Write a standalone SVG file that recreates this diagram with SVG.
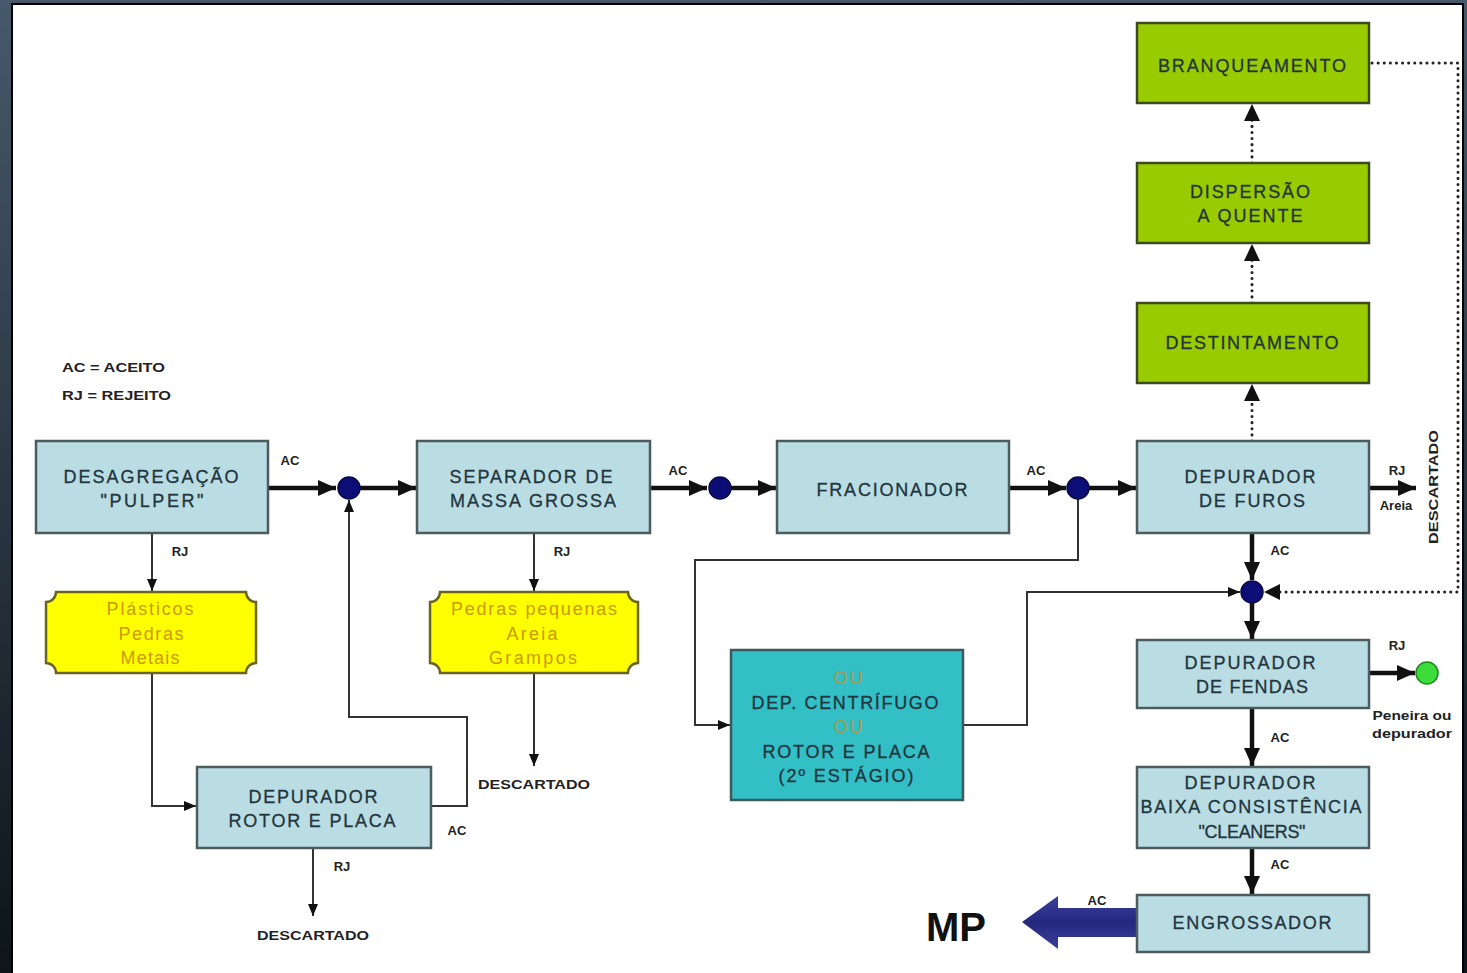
<svg xmlns="http://www.w3.org/2000/svg" width="1467" height="973" viewBox="0 0 1467 973">
<defs>
<linearGradient id="bg" x1="0" y1="0" x2="0" y2="1">
<stop offset="0" stop-color="#46596b"/>
<stop offset="1" stop-color="#0e1419"/>
</linearGradient>
<linearGradient id="mpg" x1="0" y1="0" x2="0" y2="1">
<stop offset="0" stop-color="#3a3f9a"/>
<stop offset="0.5" stop-color="#24287e"/>
<stop offset="1" stop-color="#3a3f9a"/>
</linearGradient>
<marker id="mThick" markerUnits="userSpaceOnUse" markerWidth="18" markerHeight="16" refX="18" refY="8" orient="auto">
<path d="M0,0 L18,8 L0,16 Z" fill="#111"/>
</marker>
<marker id="mThin" markerUnits="userSpaceOnUse" markerWidth="12" markerHeight="10" refX="12" refY="5" orient="auto">
<path d="M0,0 L12,5 L0,10 Z" fill="#111"/>
</marker>
<style>
.box{fill:#b9dde3;stroke:#4b5b5e;stroke-width:2.5}
.gbox{fill:#99cc00;stroke:#3d4a20;stroke-width:2.5}
.tbox{fill:#33bfc6;stroke:#3d5a5c;stroke-width:2.5}
.ybox{fill:#ffff00;stroke:#6b6320;stroke-width:2.5}
.t{font-family:"Liberation Sans",Arial,sans-serif;font-size:18px;fill:#22343d;text-anchor:middle;stroke:#22343d;stroke-width:0.3}
.y{font-family:"Liberation Sans",Arial,sans-serif;font-size:18px;fill:#c99a00;text-anchor:middle}
.ou{font-family:"Liberation Sans",Arial,sans-serif;font-size:18px;fill:#a89848;text-anchor:middle}
.l{font-family:"Liberation Sans",Arial,sans-serif;font-size:13px;font-weight:bold;fill:#222;text-anchor:middle}
.ls{font-family:"Liberation Sans",Arial,sans-serif;font-size:13px;font-weight:bold;fill:#222;text-anchor:start}
.thick{fill:none;stroke:#111;stroke-width:4.5}
.thin{fill:none;stroke:#333;stroke-width:2}
.dot{fill:none;stroke:#222;stroke-width:3;stroke-dasharray:0.1 6;stroke-linecap:round}
.jn{fill:#0d0d78;stroke:#0a0a40;stroke-width:1.5}
</style>
</defs>
<rect x="0" y="0" width="1467" height="973" fill="url(#bg)"/>
<rect x="12" y="4" width="1451" height="975" fill="#ffffff" stroke="#000" stroke-width="2"/>

<g id="legend">
<text class="ls" x="62" y="372" textLength="103" lengthAdjust="spacingAndGlyphs">AC = ACEITO</text>
<text class="ls" x="62" y="400" textLength="109" lengthAdjust="spacingAndGlyphs">RJ = REJEITO</text>
</g>

<g id="connectors">
<path class="thick" d="M268,488 H336" marker-end="url(#mThick)"/>
<path class="thick" d="M360,488 H416" marker-end="url(#mThick)"/>
<path class="thick" d="M650,488 H707" marker-end="url(#mThick)"/>
<path class="thick" d="M731,488 H776" marker-end="url(#mThick)"/>
<path class="thick" d="M1009,488 H1066" marker-end="url(#mThick)"/>
<path class="thick" d="M1089,488 H1136" marker-end="url(#mThick)"/>
<path class="thick" d="M1369,488 H1416" marker-end="url(#mThick)"/>
<path class="thick" d="M1252,533 V580" marker-end="url(#mThick)"/>
<path class="thick" d="M1252,603 V639" marker-end="url(#mThick)"/>
<path class="thick" d="M1369,673 H1415" marker-end="url(#mThick)"/>
<path class="thick" d="M1252,708 V766" marker-end="url(#mThick)"/>
<path class="thick" d="M1252,848 V894" marker-end="url(#mThick)"/>

<path class="thin" d="M152,533 V591" marker-end="url(#mThin)"/>
<path class="thin" d="M152,673 V806 H196" marker-end="url(#mThin)"/>
<path class="thin" d="M431,806 H467 V717 H349 V500" marker-end="url(#mThin)"/>
<path class="thin" d="M313,848 V916" marker-end="url(#mThin)"/>
<path class="thin" d="M534,533 V591" marker-end="url(#mThin)"/>
<path class="thin" d="M534,673 V766" marker-end="url(#mThin)"/>
<path class="thin" d="M1078,499 V560 H695 V725 H730" marker-end="url(#mThin)"/>
<path class="thin" d="M963,725 H1027 V592 H1240" marker-end="url(#mThin)"/>

<path class="dot" d="M1372,63 H1458 V592 H1270"/>
<path d="M1264,592 L1280,584 L1280,600 Z" fill="#111"/>
<path class="dot" d="M1252,441 V398"/>
<path d="M1252,384 L1244,401 L1260,401 Z" fill="#111"/>
<path class="dot" d="M1252,303 V258"/>
<path d="M1252,244 L1244,261 L1260,261 Z" fill="#111"/>
<path class="dot" d="M1252,163 V118"/>
<path d="M1252,104 L1244,121 L1260,121 Z" fill="#111"/>

<circle class="jn" cx="349" cy="488" r="11"/>
<circle class="jn" cx="720" cy="488" r="11"/>
<circle class="jn" cx="1078" cy="488" r="11"/>
<circle class="jn" cx="1252" cy="592" r="11"/>
<circle cx="1427" cy="673" r="11" fill="#3ddc3d" stroke="#1e8a1e" stroke-width="1.5"/>

<path d="M1137,908 H1058 V896 L1022,922 L1058,949 V937 H1137 Z" fill="url(#mpg)"/>

<text class="l" x="290" y="465">AC</text>
<text class="l" x="678" y="475">AC</text>
<text class="l" x="1036" y="475">AC</text>
<text class="l" x="180" y="556">RJ</text>
<text class="l" x="562" y="556">RJ</text>
<text class="l" x="457" y="835">AC</text>
<text class="l" x="342" y="871">RJ</text>
<text class="l" x="313" y="940" textLength="112" lengthAdjust="spacingAndGlyphs">DESCARTADO</text>
<text class="l" x="534" y="789" textLength="112" lengthAdjust="spacingAndGlyphs">DESCARTADO</text>
<text class="l" x="1397" y="475">RJ</text>
<text class="l" x="1396" y="510">Areia</text>
<text class="l" transform="translate(1438,487) rotate(-90)" textLength="114" lengthAdjust="spacingAndGlyphs">DESCARTADO</text>
<text class="l" x="1280" y="555">AC</text>
<text class="l" x="1397" y="650">RJ</text>
<text class="l" x="1412" y="720" textLength="79" lengthAdjust="spacingAndGlyphs">Peneira ou</text>
<text class="l" x="1412" y="738" textLength="80" lengthAdjust="spacingAndGlyphs">depurador</text>
<text class="l" x="1280" y="742">AC</text>
<text class="l" x="1280" y="869">AC</text>
<text class="l" x="1097" y="905">AC</text>
<text x="956" y="941" font-family="'Liberation Sans',Arial,sans-serif" font-size="40" font-weight="bold" fill="#111" text-anchor="middle">MP</text>
</g>

<g id="n-desagregacao">
<rect class="box" x="36" y="441" width="232" height="92"/>
<text class="t" x="151" y="483" textLength="175">DESAGREGAÇÃO</text>
<text class="t" x="152" y="507" textLength="103">"PULPER"</text>
</g>
<g id="n-separador">
<rect class="box" x="417" y="441" width="233" height="92"/>
<text class="t" x="531" y="483" textLength="163">SEPARADOR DE</text>
<text class="t" x="533" y="507" textLength="166">MASSA GROSSA</text>
</g>
<g id="n-fracionador">
<rect class="box" x="777" y="441" width="232" height="92"/>
<text class="t" x="892" y="496" textLength="151">FRACIONADOR</text>
</g>
<g id="n-furos">
<rect class="box" x="1137" y="441" width="232" height="92"/>
<text class="t" x="1250" y="483" textLength="131">DEPURADOR</text>
<text class="t" x="1252" y="507" textLength="106">DE FUROS</text>
</g>
<g id="n-branqueamento">
<rect class="gbox" x="1137" y="23" width="232" height="80"/>
<text class="t" x="1252" y="72" textLength="188">BRANQUEAMENTO</text>
</g>
<g id="n-dispersao">
<rect class="gbox" x="1137" y="163" width="232" height="80"/>
<text class="t" x="1250" y="198" textLength="120">DISPERSÃO</text>
<text class="t" x="1250" y="222" textLength="105">A QUENTE</text>
</g>
<g id="n-destintamento">
<rect class="gbox" x="1137" y="303" width="232" height="80"/>
<text class="t" x="1252" y="349" textLength="173">DESTINTAMENTO</text>
</g>
<g id="n-fendas">
<rect class="box" x="1137" y="640" width="232" height="68"/>
<text class="t" x="1250" y="669" textLength="131">DEPURADOR</text>
<text class="t" x="1252" y="693" textLength="112">DE FENDAS</text>
</g>
<g id="n-cleaners">
<rect class="box" x="1137" y="767" width="232" height="81"/>
<text class="t" x="1250" y="789" textLength="131">DEPURADOR</text>
<text class="t" x="1251" y="813" textLength="221">BAIXA CONSISTÊNCIA</text>
<text class="t" x="1252" y="838" textLength="107">"CLEANERS"</text>
</g>
<g id="n-engrossador">
<rect class="box" x="1137" y="895" width="232" height="57"/>
<text class="t" x="1252" y="929" textLength="159">ENGROSSADOR</text>
</g>
<g id="n-centrifugo">
<rect class="tbox" x="731" y="650" width="232" height="150"/>
<text class="ou" x="848" y="684" textLength="29">OU</text>
<text class="t" x="845" y="709" textLength="187">DEP. CENTRÍFUGO</text>
<text class="ou" x="848" y="733" textLength="29">OU</text>
<text class="t" x="846" y="758" textLength="167">ROTOR E PLACA</text>
<text class="t" x="846" y="782" textLength="135">(2º ESTÁGIO)</text>
</g>
<g id="n-rotor">
<rect class="box" x="197" y="767" width="234" height="81"/>
<text class="t" x="313" y="803" textLength="129">DEPURADOR</text>
<text class="t" x="312" y="827" textLength="167">ROTOR E PLACA</text>
</g>
<g id="n-plasticos">
<path class="ybox" d="M56,592 H246 A10,10 0 0 0 256,602 V663 A10,10 0 0 0 246,673 H56 A10,10 0 0 0 46,663 V602 A10,10 0 0 0 56,592 Z"/>
<text class="y" x="150" y="615" textLength="87">Plásticos</text>
<text class="y" x="151" y="640" textLength="65">Pedras</text>
<text class="y" x="150" y="664" textLength="59">Metais</text>
</g>
<g id="n-pedras">
<path class="ybox" d="M440,592 H628 A10,10 0 0 0 638,602 V663 A10,10 0 0 0 628,673 H440 A10,10 0 0 0 430,663 V602 A10,10 0 0 0 440,592 Z"/>
<text class="y" x="534" y="615" textLength="166">Pedras pequenas</text>
<text class="y" x="532" y="640" textLength="51">Areia</text>
<text class="y" x="533" y="664" textLength="88">Grampos</text>
</g>
</svg>
